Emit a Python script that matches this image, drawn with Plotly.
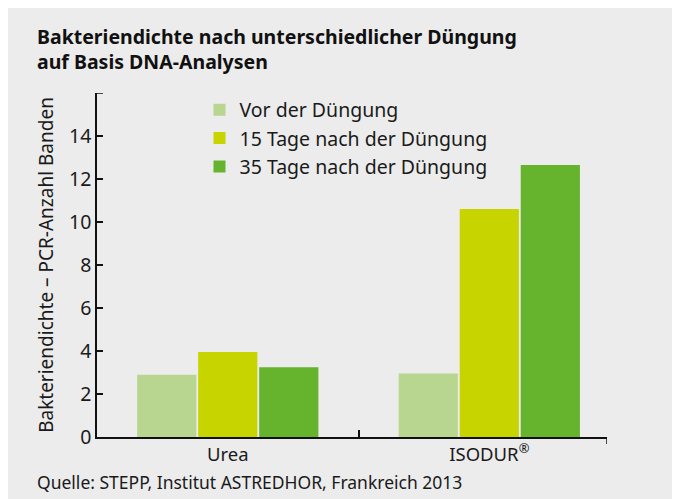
import plotly.graph_objects as go

categories = ["Urea", "ISODUR<sup>®</sup>"]
series_names = ["Vor der Düngung", "15 Tage nach der Düngung", "35 Tage nach der Düngung"]
vor = [2.9, 2.95]
tage15 = [3.95, 10.6]
tage35 = [3.25, 12.65]
colors = ["#b8d68f", "#c8d400", "#66b32e"]
y_tickvals = [0, 2, 4, 6, 8, 10, 12, 14]
y_max = 16

FONT = "Noto Sans"
BG = "#ececec"

fig = go.Figure()
for name, vals, col in zip(series_names, [vor, tage15, tage35], colors):
    fig.add_trace(go.Bar(x=categories, y=vals, name=name, marker=dict(color=col, line=dict(width=0))))

W, H = 680, 499
L, R, T, B = 89, 81, 85, 70
pw, ph = W - L - R, H - T - B

fig.update_layout(
    width=W, height=H,
    margin=dict(l=L, r=R, t=T, b=B),
    paper_bgcolor=BG, plot_bgcolor=BG,
    font=dict(family=FONT, color="#1a1a1a", size=19),
    barmode="group", bargap=0.3, bargroupgap=0.03,
    legend=dict(x=0.201, y=1.007, xanchor="left", yanchor="top", bgcolor="rgba(0,0,0,0)",
                font=dict(size=19.5), tracegroupgap=0, itemwidth=30),
    showlegend=True,
)
fig.update_xaxes(
    type="category", range=[-0.5, 1.45], showline=True, linecolor="#111111", linewidth=1.5,
    ticks="inside", tickson="boundaries", ticklen=7, tickcolor="#111111", tickwidth=1.5,
    showgrid=False, zeroline=False, tickfont=dict(size=18.5), ticklabelstandoff=0,
)
fig.update_yaxes(
    range=[0, y_max], tickvals=y_tickvals, showline=True,
    linecolor="#111111", linewidth=1.5, ticks="inside", ticklen=6, tickcolor="#111111",
    tickwidth=1.5, showgrid=False, zeroline=False, tickfont=dict(size=19.5),
    title=dict(text="Bakteriendichte – PCR-Anzahl Banden", font=dict(size=19), standoff=10),
)

# top tick of y axis (no label) and end tick of x axis pointing downward
fig.add_shape(type="line", xref="paper", yref="y", x0=0, x1=6 / pw, y0=y_max, y1=y_max,
              line=dict(color="#111111", width=1.5))
fig.add_shape(type="line", xref="x", yref="paper", x0=1.45, x1=1.45, y0=0, y1=-7 / ph,
              line=dict(color="#111111", width=1.5))

fig.add_annotation(text="<b>Bakteriendichte nach unterschiedlicher Düngung<br>auf Basis DNA-Analysen</b>",
                   xref="paper", yref="paper", x=(27 - L) / pw, y=1 + (T - 13) / ph,
                   xanchor="left", yanchor="top", align="left", showarrow=False,
                   font=dict(size=19.5, color="#111111"))

fig.add_annotation(text="Quelle: STEPP, Institut ASTREDHOR, Frankreich 2013", xref="paper", yref="paper",
                   x=(27 - L) / pw, y=(429 - 474) / ph, xanchor="left", yanchor="middle",
                   showarrow=False, font=dict(size=17.5, color="#1a1a1a"))

fig.write_html("out.html")
